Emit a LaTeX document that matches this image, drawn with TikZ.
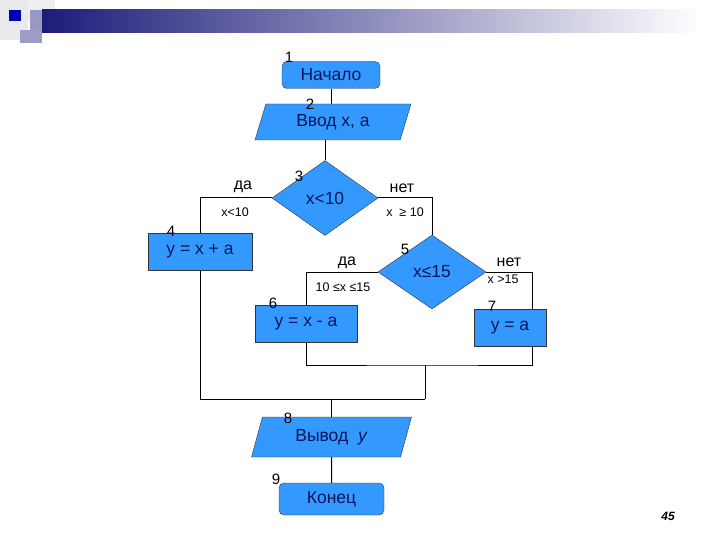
\documentclass[tikz,border=0pt]{standalone}
\usepackage{fontspec}
\setmainfont{Liberation Sans}
\usetikzlibrary{shapes.geometric}
\definecolor{blockblue}{RGB}{51,153,255}
\definecolor{blocktext}{RGB}{10,20,90}
\definecolor{bardark}{RGB}{28,28,122}
\tikzset{
  block/.style={draw=black!80,fill=blockblue,text=blocktext,inner sep=0pt,
    font=\fontsize{17.5}{19}\selectfont},
  term/.style={block,rounded corners=5pt},
  proc/.style={block,rectangle},
  io/.style={block,trapezium,trapezium left angle=55,trapezium right angle=125,
    trapezium stretches body},
  cond/.style={block,diamond},
  num/.style={font=\fontsize{15}{17}\selectfont},
  ans/.style={font=\fontsize{16}{18}\selectfont},
  case/.style={font=\fontsize{12.5}{14}\selectfont},
  link/.style={line width=1pt}
}
\begin{document}
\begin{tikzpicture}[x=1pt,y=-1pt]
  \useasboundingbox (0,0) rectangle (720,540);
  % header
  \fill[blue!8!gray!15] (0,0) rectangle (28,40);
  \fill[blue!6!gray!12] (28,0) rectangle (55,22);
  \shade[left color=bardark,middle color=bardark!30!gray!40,right color=white] (42,10) rectangle (700,33);
  \fill[bardark!45!white] (30,10) rectangle (42,33);
  \fill[blue!30!gray!60] (20,30) rectangle (42,43);
  \fill[blue!70!black] (9,10) rectangle (21,21);

  % blocks
  \node[term,minimum width=98pt,minimum height=27pt] (start) at (331,75) {Начало};
  \node[io,minimum width=156pt,minimum height=36pt] (in) at (333,122) {Ввод x,\ a};
  \node[cond,minimum width=106pt,minimum height=75pt] (d3) at (325,198) {x<10};
  \node[proc,minimum width=104pt,minimum height=37pt] (r4) at (200,251.5) {y = x + a};
  \node[cond,minimum width=108pt,minimum height=74pt] (d5) at (432,272) {x≤15};
  \node[proc,minimum width=102pt,minimum height=37pt] (r6) at (306,323.5) {y = x - a};
  \node[proc,minimum width=72pt,minimum height=37pt] (r7) at (510,327.5) {y = a};
  \node[io,minimum width=160pt,minimum height=40pt] (out) at (331.5,437) {Вывод\ \ \textit{y}};
  \node[term,minimum width=105pt,minimum height=32pt] (end) at (331.5,499) {Конец};

  \coordinate (j1) at (425,365);
  \coordinate (j2) at (425,399);

  % connectors
  \draw[link] (start.south) -- (start.south |- in.north);
  \draw[link] (d3.north |- in.south) -- (d3.north);
  \draw[link] (d3.west) -| (r4.north);
  \draw[link] (d3.east) -| (d5.north);
  \draw[link] (d5.west) -| (r6.north);
  \draw[link] (d5.east) -| ([xshift=22pt]r7.north);
  \draw[link] (r6.south) |- (j1) -| ([xshift=22pt]r7.south);
  \draw[link] (j1) -- (j2);
  \draw[link] (r4.south) |- (j2);
  \draw[link] (out.north |- j2) -- (out.north);
  \draw[link] (out.south) -- (end.north);

  % numbers
  \node[num] at (289,57) {1};
  \node[num] at (310,104) {2};
  \node[num] at (299,176) {3};
  \node[num] at (171,231) {4};
  \node[num] at (405,249) {5};
  \node[num] at (273,303) {6};
  \node[num] at (492,306) {7};
  \node[num] at (288,418) {8};
  \node[num] at (276,479) {9};

  % branch labels
  \node[ans] at (243,187) {да};
  \node[case] at (235,212) {x<10};
  \node[ans] at (402,188) {нет};
  \node[case] at (405,212) {x\ \ ≥ 10};
  \node[ans] at (347,263) {да};
  \node[case] at (343,287) {10 ≤x ≤15};
  \node[ans] at (509,262) {нет};
  \node[case] at (503,279) {x >15};

  \node[font=\fontsize{12}{14}\selectfont\bfseries\itshape] at (668,516) {45};
\end{tikzpicture}
\end{document}
